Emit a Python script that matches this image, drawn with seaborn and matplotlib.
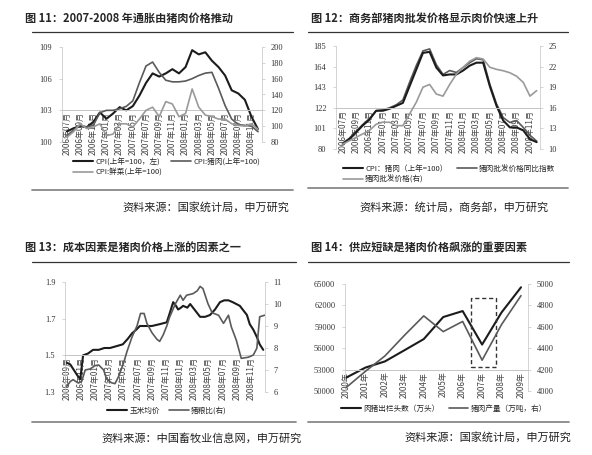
import numpy as np
import pandas as pd
import matplotlib
matplotlib.use('Agg')
import matplotlib.pyplot as plt
import seaborn as sns
from matplotlib.lines import Line2D
from matplotlib.patches import Rectangle

CJK = ['Noto Sans CJK SC', 'DejaVu Sans']
NUM = 'Liberation Serif'

# ---- 图 11 ----
t11_labels = ['2006年07月', '2006年09月', '2006年11月', '2007年01月', '2007年03月',
              '2007年05月', '2007年07月', '2007年09月', '2007年11月', '2008年01月',
              '2008年03月', '2008年05月', '2008年07月', '2008年09月', '2008年11月']
cpi_11 = [101.0, 101.3, 101.5, 101.4, 101.9, 102.8, 102.2, 102.7, 103.3, 103.0,
          103.4, 104.4, 105.6, 106.5, 106.2, 106.5, 106.9, 106.5, 107.1, 108.7,
          108.3, 108.5, 107.7, 107.1, 106.3, 104.9, 104.6, 104.0, 102.4, 101.2]
pork_11 = [88, 95, 101, 99, 101, 117, 120, 120, 122, 125,
           132, 155, 176, 181, 168, 158, 156, 156, 157, 160,
           164, 167, 168, 148, 126, 109, 102, 101, 100, 93]
veg_11 = [86, 93, 103, 97, 99, 103, 88, 90, 103, 103,
          99, 109, 120, 124, 112, 131, 128, 112, 116, 147,
          124, 114, 112, 109, 109, 103, 101, 100, 103, 96]

# ---- 图 12 ----
t12_labels = t11_labels
cpi_pork_12 = [85, 90, 97, 104, 110, 119, 119, 121, 124, 127,
               144, 161, 178, 179, 163, 155, 156, 156, 160, 165,
               168, 168, 144, 124, 109, 102, 102, 99, 90, 87]
whole_idx_12 = [86, 91, 98, 105, 111, 119, 120, 122, 125, 130,
                148, 165, 180, 182, 166, 156, 160, 158, 163, 168,
                172, 171, 146, 126, 112, 107, 109, 102, 94, 88]
whole_price_12 = [10.7, 11.2, 11.7, 12.2, 12.7, 13.6, 13.9, 13.9, 13.4, 13.4,
                  15.1, 16.8, 19.0, 19.4, 18.0, 17.7, 19.4, 20.9, 21.9, 22.8,
                  23.3, 23.1, 21.9, 21.6, 21.4, 21.1, 20.6, 19.7, 17.7, 18.5]

# ---- 图 13 (months since 2006-09) ----
t13_labels = ['2006年09月', '2006年11月', '2007年01月', '2007年03月', '2007年05月',
              '2007年07月', '2007年09月', '2007年11月', '2008年01月', '2008年03月',
              '2008年05月', '2008年07月', '2008年09月', '2008年11月']
corn_m = [0, 0.5, 1.0, 1.5, 1.9, 2.3, 3.0, 3.7, 4.5, 5.3, 6.1, 7.0, 7.9, 8.6, 9.2,
          9.8, 10.3, 11.0, 12.0, 13.1, 14.1, 14.6, 15.0, 15.4, 15.7, 16.1, 16.4,
          17.0, 17.4, 18.0, 18.8, 19.5, 20.2, 20.9, 21.6, 22.2, 22.8, 23.4, 23.9,
          24.4, 24.9, 25.4, 25.8, 26.3, 26.8, 27.2, 27.7]
corn_price = [1.46, 1.45, 1.42, 1.39, 1.37, 1.50, 1.51, 1.53, 1.53, 1.54, 1.54, 1.55,
              1.56, 1.59, 1.62, 1.64, 1.66, 1.66, 1.66, 1.67, 1.68, 1.74, 1.79, 1.77,
              1.75, 1.76, 1.77, 1.76, 1.78, 1.75, 1.71, 1.71, 1.72, 1.75, 1.79, 1.80,
              1.80, 1.79, 1.78, 1.77, 1.745, 1.72, 1.67, 1.64, 1.60, 1.56, 1.53]
ratio_m = [0, 0.5, 0.9, 1.6, 2.1, 2.6, 3.3, 4.0, 4.5, 5.2, 5.6, 6.3, 6.8, 7.3, 8.0,
           8.5, 9.2, 9.9, 10.4, 10.9, 11.3, 12.0, 12.7, 13.1, 13.6, 14.1, 14.5, 15.3,
           16.0, 16.4, 16.9, 17.8, 18.4, 18.8, 19.2, 19.9, 20.5, 21.4, 22.1, 22.8,
           23.2, 23.9, 24.6, 25.6, 26.3, 26.8, 27.2, 27.9]
hog_grain = [6.26, 6.48, 6.56, 6.41, 6.48, 7.0, 7.05, 7.2, 7.23, 7.0, 6.6, 6.42,
             6.38, 6.7, 7.31, 7.85, 8.5, 9.0, 9.57, 9.57, 9.12, 8.7, 8.4, 8.3, 8.6,
             9.0, 9.4, 10.0, 10.4, 10.17, 10.4, 10.47, 10.6, 10.8, 10.7, 10.02, 9.6,
             9.49, 9.12, 9.49, 8.96, 8.36, 7.53, 7.58, 7.68, 7.99, 9.42, 9.49]

# ---- 图 14 ----
years_14 = ['2000年', '2001年', '2002年', '2003年', '2004年',
            '2005年', '2006年', '2007年', '2008年', '2009年']
hogs_out = [51862, 53281, 54144, 55702, 57279, 60367, 61207, 56508, 61017, 64539]
pork_out = [4031, 4184, 4327, 4519, 4702, 4555, 4650, 4288, 4621, 4891]

sns.set_style('white')
plt.rcParams['font.family'] = CJK
plt.rcParams['axes.unicode_minus'] = False

W, H = 592, 455
fig = plt.figure(figsize=(W / 100, H / 100), dpi=100)

BLACK = '#1c1c1c'
DARK = '#5a5a5a'
LIGHT = '#9a9a9a'
AXC = '#c4c4c4'


def panel(l, t, r, b, xlim, yl, ytl, yr, ytr, cross, xt, xtl):
    ax = fig.add_axes([l / W, 1 - b / H, (r - l) / W, (b - t) / H])
    ax2 = ax.twinx()
    ax.set_xlim(*xlim)
    ax.set_ylim(*yl)
    ax2.set_ylim(*yr)
    for a in (ax, ax2):
        a.spines['top'].set_visible(False)
        a.set_facecolor('none')
    ax.spines['right'].set_visible(False)
    ax2.spines['left'].set_visible(False)
    ax2.spines['bottom'].set_visible(False)
    ax.spines['bottom'].set_position(('data', cross))
    ax.spines['bottom'].set_color(AXC)
    ax.spines['bottom'].set_linewidth(0.7)
    ax.spines['left'].set_color(AXC)
    ax.spines['left'].set_linewidth(0.5)
    ax2.spines['right'].set_color(AXC)
    ax2.spines['right'].set_linewidth(0.5)
    ax.set_yticks(ytl)
    ax.set_yticklabels([str(v) for v in ytl], fontfamily=NUM, fontsize=6, color='#333')
    ax2.set_yticks(ytr)
    ax2.set_yticklabels([str(v) for v in ytr], fontfamily=NUM, fontsize=6, color='#333')
    ax.tick_params(axis='y', length=2, width=0.5, color=AXC, pad=5)
    ax2.tick_params(axis='y', length=2, width=0.5, color=AXC, pad=4)
    ax.set_xticks(xt)
    ax.set_xticklabels(xtl, rotation=90, fontsize=5.8, color='#444')
    ax.tick_params(axis='x', length=0, pad=1.5)
    return ax, ax2


def finish(ax, ax2, x, y, ncol, order=None):
    h1, l1 = ax.get_legend_handles_labels()
    h2, l2 = ax2.get_legend_handles_labels()
    for a in (ax, ax2):
        if a.get_legend() is not None:
            a.get_legend().remove()
        a.set(xlabel='', ylabel='')
    hs, ls = h1 + h2, l1 + l2
    if order:
        hs = [hs[i] for i in order]
        ls = [ls[i] for i in order]
    fig.legend(hs, ls, loc='upper left', bbox_to_anchor=(x / W, 1 - y / H),
               ncol=ncol, frameon=False, fontsize=5.5, handlelength=2.6,
               handletextpad=0.3, columnspacing=1.2, labelspacing=0.35,
               borderpad=0, borderaxespad=0)


def deco(x0, x1, ytop, ybot, title, tx, ty, src, sx, sy):
    fig.add_artist(Line2D([x0 / W, x1 / W], [1 - ytop / H] * 2, color='#333', lw=0.9))
    fig.add_artist(Line2D([x0 / W, x1 / W], [1 - ybot / H] * 2, color='#888', lw=1.3))
    fig.text(tx / W, 1 - ty / H, title, fontsize=8, fontweight='bold', va='center', ha='left')
    fig.text(sx / W, 1 - sy / H, src, fontsize=8, va='center', ha='right', color='#222')


# 图 11
ax, ax2 = panel(62, 47, 262, 142, (-0.75, 29.6), (100, 109), [100, 103, 106, 109],
                (80, 200), list(range(80, 201, 20)), 103,
                list(range(0, 30, 2)), t11_labels)
x11 = np.arange(len(cpi_11))
sns.lineplot(x=x11, y=cpi_11, ax=ax, color=BLACK, lw=1.5, label='CPI(上年=100，左)')
sns.lineplot(x=x11, y=pork_11, ax=ax2, color=DARK, lw=1.2, label='CPI:猪肉(上年=100)')
sns.lineplot(x=x11, y=veg_11, ax=ax2, color=LIGHT, lw=1.2, label='CPI:鲜菜(上年=100)')
finish(ax, ax2, 73, 158, 2, order=[0, 2, 1])
deco(32, 293, 32, 190, '图 11：2007-2008 年通胀由猪肉价格推动', 25, 18,
     '资料来源：国家统计局，申万研究', 289, 207)

# 图 12
ax, ax2 = panel(336, 46, 540, 149, (-1, 29.5), (80, 185), [80, 101, 122, 143, 164, 185],
                (10, 25), [10, 13, 16, 19, 22, 25], 122,
                list(range(0, 30, 2)), t12_labels)
x12 = np.arange(len(cpi_pork_12))
sns.lineplot(x=x12, y=whole_idx_12, ax=ax, color=DARK, lw=1.2, label='猪肉批发价格同比指数')
sns.lineplot(x=x12, y=cpi_pork_12, ax=ax, color=BLACK, lw=1.5, label='CPI：猪肉（上年=100）')
sns.lineplot(x=x12, y=whole_price_12, ax=ax2, color=LIGHT, lw=1.2, label='猪肉批发价格(右)')
finish(ax, ax2, 343, 165, 2, order=[1, 2, 0])
deco(308, 568, 32, 188, '图 12：商务部猪肉批发价格显示肉价快速上升', 311, 18,
     '资料来源：统计局，商务部，申万研究', 549, 207)

# 图 13
ax, ax2 = panel(65, 282, 265, 392, (-0.25, 27.95), (1.3, 1.9), [1.3, 1.5, 1.7, 1.9],
                (6, 11), [6, 7, 8, 9, 10, 11], 1.5,
                list(range(0, 28, 2)), t13_labels)
sns.lineplot(x=corn_m, y=corn_price, ax=ax, color=BLACK, lw=1.5, label='玉米均价')
sns.lineplot(x=ratio_m, y=hog_grain, ax=ax2, color=DARK, lw=1.2, label='猪粮比(右)')
finish(ax, ax2, 107, 407, 2)
deco(32, 296, 262, 422, '图 13：成本因素是猪肉价格上涨的因素之一', 25, 248,
     '资料来源：中国畜牧业信息网，申万研究', 302, 438)

# 图 14
ax, ax2 = panel(345, 284, 528, 391, (-0.05, 9.36), (50000, 65000),
                list(range(50000, 65001, 3000)), (4000, 5000),
                list(range(4000, 5001, 200)), 53000,
                list(range(len(years_14))), years_14)
x14 = np.arange(len(years_14))
sns.lineplot(x=x14, y=hogs_out, ax=ax, color=BLACK, lw=1.5, label='肉猪出栏头数（万头）')
sns.lineplot(x=x14, y=pork_out, ax=ax2, color=DARK, lw=1.2, label='猪肉产量（万吨，右）')
i07 = years_14.index('2007年')
ax.add_patch(Rectangle((i07 - 0.55, 53300), 1.27, 9700, fill=False,
                       ls=(0, (3, 2)), lw=1.0, ec='#333', zorder=5))
finish(ax, ax2, 341, 405, 2)
deco(308, 569, 262, 422, '图 14：供应短缺是猪肉价格飙涨的重要因素', 311, 248,
     '资料来源：国家统计局，申万研究', 571, 437)

fig.savefig('out.png', dpi=100, facecolor='white')
